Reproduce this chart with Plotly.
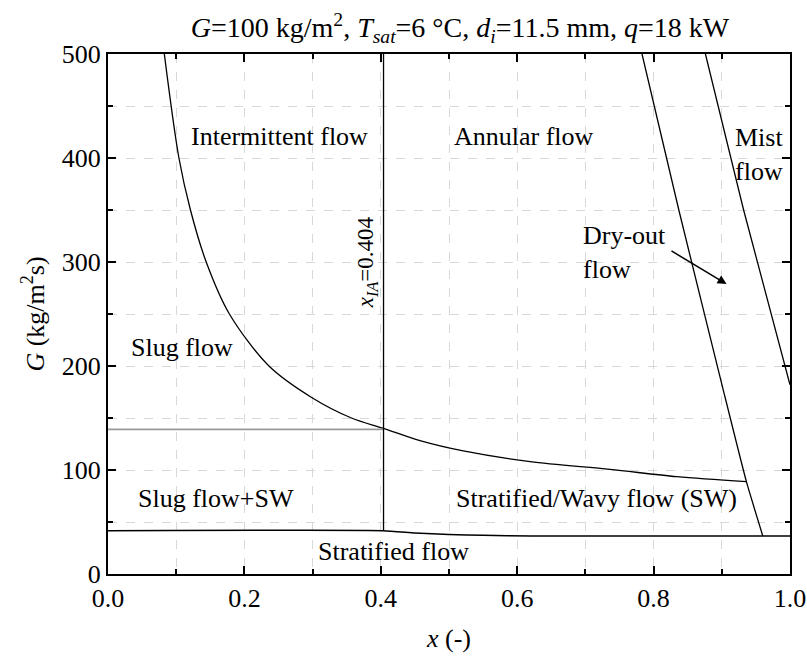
import plotly.graph_objects as go

# Boundary curves (x = vapor quality, G = mass flux)
int_x = [0.0826, 0.104, 0.1209, 0.144, 0.178, 0.236, 0.298, 0.357, 0.404, 0.4575, 0.521, 0.619, 0.736, 0.834, 0.936]
int_G = [500, 400, 350, 300, 250, 200, 170, 150, 140, 128.2, 118.3, 108, 100.6, 93.6, 88.8]

slugsw_x = [0.0, 0.404]
slugsw_G = [139, 139]

strat_x = [0.0, 0.404, 0.45, 0.5, 0.55, 0.62, 1.0]
strat_G = [41.7, 41.7, 39.5, 38.0, 37.2, 36.6, 36.6]

ia_x = [0.404, 0.404]
ia_G = [41.7, 500]

dry_x = [0.783, 0.837, 0.901, 0.936, 0.960]
dry_G = [500, 350, 180, 89, 36.8]

mist_x = [0.876, 0.932, 1.0]
mist_G = [500, 350, 182]

labels = ["Intermittent flow", "Annular flow", "Slug flow", "Slug flow+SW",
          "Stratified/Wavy flow (SW)", "Stratified flow"]
label_x = [0.252, 0.61, 0.1085, 0.158, 0.716, 0.419]
label_G = [421, 421, 218, 73, 73, 22]

FONT = "Liberation Serif, Times New Roman, serif"
FS = 26

fig = go.Figure()
line = dict(color="black", width=1.3)
fig.add_trace(go.Scatter(x=int_x, y=int_G, mode="lines", line=dict(color="black", width=1.3, shape="spline", smoothing=0.9)))
fig.add_trace(go.Scatter(x=slugsw_x, y=slugsw_G, mode="lines", line=dict(color="#999999", width=1.8)))
fig.add_trace(go.Scatter(x=strat_x, y=strat_G, mode="lines", line=dict(color="black", width=1.5, shape="spline", smoothing=0.4)))
fig.add_trace(go.Scatter(x=ia_x, y=ia_G, mode="lines", line=line))
fig.add_trace(go.Scatter(x=dry_x, y=dry_G, mode="lines", line=dict(color="black", width=1.3, shape="spline", smoothing=0.5)))
fig.add_trace(go.Scatter(x=mist_x, y=mist_G, mode="lines", line=line))

for t, xx, yy in zip(labels, label_x, label_G):
    fig.add_annotation(x=xx, y=yy, text=t, showarrow=False, font=dict(family=FONT, size=FS, color="black"))

fig.add_annotation(x=0.993, y=403, text="Mist<br>flow", showarrow=False, xanchor="right", align="right",
                   font=dict(family=FONT, size=FS, color="black"))

fig.add_annotation(x=0.380, y=300, text="<i>x<sub>IA</sub></i>=0.404", textangle=-90, showarrow=False,
                   font=dict(family=FONT, size=23, color="black"))

fig.add_annotation(x=0.693, y=309, text="Dry-out<br>flow", showarrow=False, xanchor="left", align="left",
                   font=dict(family=FONT, size=FS, color="black"))
fig.add_annotation(x=0.907, y=278.8, ax=0.824, ay=311.5, axref="x", ayref="y", xref="x", yref="y",
                   text="", showarrow=True, arrowhead=2, arrowsize=1.2, arrowwidth=1.5, arrowcolor="black")

axis_common = dict(
    showline=True, linecolor="black", linewidth=2, mirror="allticks",
    ticks="inside", ticklen=8, tickwidth=2, tickcolor="black",
    showgrid=True, gridcolor="#d8d8d8", griddash="dash", gridwidth=1,
    zeroline=False, automargin=False,
    tickfont=dict(family=FONT, size=FS, color="black"),
)

fig.update_xaxes(range=[0, 1.0], dtick=0.2, tick0=0, tickformat=".1f",
                 minor=dict(dtick=0.1, ticks="inside", ticklen=5, tickwidth=1.5, tickcolor="black",
                            showgrid=True, gridcolor="#d8d8d8", griddash="dash", gridwidth=1),
                 title=dict(text="<i>x</i> (-)", font=dict(family=FONT, size=FS, color="black"), standoff=17),
                 **axis_common)
fig.update_yaxes(range=[0, 500], dtick=100, tick0=0,
                 minor=dict(dtick=50, ticks="inside", ticklen=5, tickwidth=1.5, tickcolor="black",
                            showgrid=True, gridcolor="#d8d8d8", griddash="dash", gridwidth=1),
                 title=dict(text="<i>G</i> (kg/m<sup>2</sup>s)", font=dict(family=FONT, size=FS, color="black"), standoff=10),
                 **axis_common)

fig.update_layout(
    width=807, height=659,
    margin=dict(l=108, r=17, t=54, b=85),
    paper_bgcolor="white", plot_bgcolor="white",
    showlegend=False,
    title=dict(text="<i>G</i>=100 kg/m<sup>2</sup>, <i>T<sub>sat</sub></i>=6 °C, <i>d<sub>i</sub></i>=11.5 mm, <i>q</i>=18 kW",
               x=0.57, xanchor="center", y=0.958, yanchor="middle",
               font=dict(family=FONT, size=28, color="black")),
)

fig.write_html("out.html")
